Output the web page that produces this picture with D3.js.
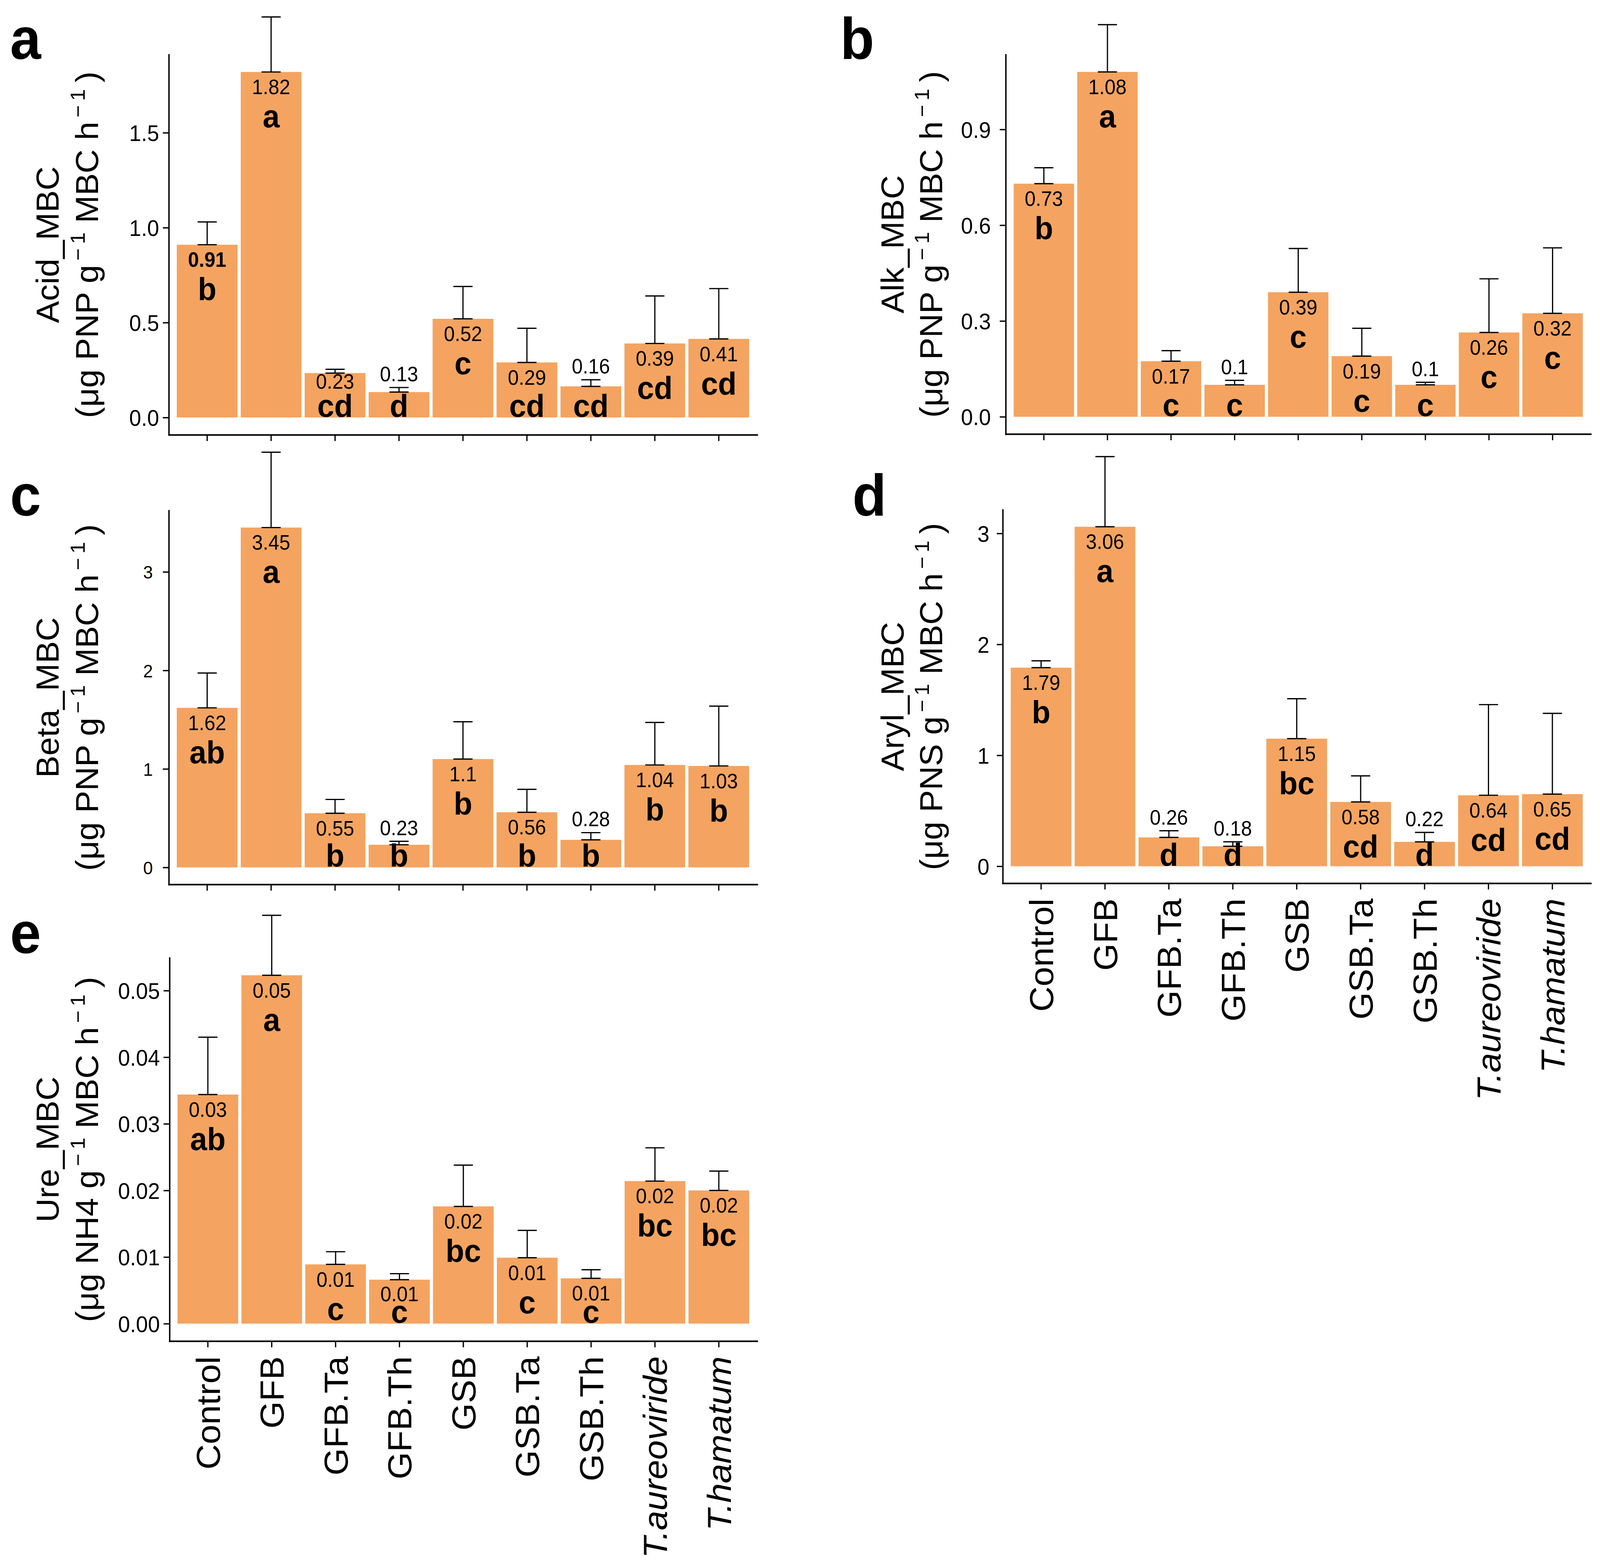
<!DOCTYPE html>
<html lang="en">
<head>
<meta charset="UTF-8" />
<title>Enzyme activity per MBC</title>
<style>
    body, html {
        margin: 0;
        padding: 0;
        overflow: hidden;
        background: #fff;
    }
    svg {
        display: block;
        width: 100vw;
        height: 100vh;
        font-family: "Liberation Sans", Arial, sans-serif;
    }
</style>
</head>
<body>
<svg id="chart"></svg>

<script src="https://d3js.org/d3.v7.min.js"></script>
<script>
    // treatments (x axis)
    const groups = ["Control", "GFB", "GFB.Ta", "GFB.Th", "GSB", "GSB.Ta", "GSB.Th", "T.aureoviride", "T.hamatum"];
    const italicGroups = ["T.aureoviride", "T.hamatum"];

    // a - acid phosphatase
    const acidMean = [0.91, 1.82, 0.234, 0.134, 0.52, 0.29, 0.164, 0.39, 0.414];
    const acidSE = [0.12, 0.29, 0.02, 0.024, 0.17, 0.18, 0.035, 0.25, 0.265];
    const acidSig = ["b", "a", "cd", "d", "c", "cd", "cd", "cd", "cd"];
    const acidTicks = [0, 0.5, 1, 1.5];
    const acidBoldLabels = ["Control"];   // this mean label is printed bold in the figure

    // b - alkaline phosphatase
    const alkMean = [0.73, 1.08, 0.174, 0.1, 0.39, 0.19, 0.1, 0.264, 0.324];
    const alkSE = [0.05, 0.148, 0.033, 0.014, 0.137, 0.087, 0.008, 0.168, 0.205];
    const alkSig = ["b", "a", "c", "c", "c", "c", "c", "c", "c"];
    const alkTicks = [0, 0.3, 0.6, 0.9];

    // c - beta glucosidase
    const betaMean = [1.62, 3.45, 0.55, 0.23, 1.1, 0.56, 0.28, 1.04, 1.03];
    const betaSE = [0.353, 0.765, 0.14, 0.035, 0.379, 0.233, 0.073, 0.432, 0.607];
    const betaSig = ["ab", "a", "b", "b", "b", "b", "b", "b", "b"];
    const betaTicks = [0, 1, 2, 3];

    // d - arylsulfatase
    const arylMean = [1.79, 3.06, 0.26, 0.18, 1.15, 0.58, 0.22, 0.64, 0.65];
    const arylSE = [0.062, 0.632, 0.06, 0.041, 0.36, 0.235, 0.085, 0.817, 0.728];
    const arylSig = ["b", "a", "d", "d", "bc", "cd", "d", "cd", "cd"];
    const arylTicks = [0, 1, 2, 3];

    // e - urease
    const ureMean = [0.0344, 0.0523, 0.0089, 0.0066, 0.0176, 0.0099, 0.0068, 0.0214, 0.0200];
    const ureSE = [0.0086, 0.009, 0.0019, 0.0009, 0.0062, 0.0041, 0.0013, 0.005, 0.0029];
    const ureSig = ["ab", "a", "c", "c", "bc", "c", "c", "bc", "bc"];
    const ureTicks = [0, 0.01, 0.02, 0.03, 0.04, 0.05];

    const panels = [
        { tag: "a", name: "Acid_MBC", unit: "PNP", mean: acidMean, se: acidSE, sig: acidSig, ticks: acidTicks, fmt: ".1f", xlab: false, bold: acidBoldLabels },
        { tag: "b", name: "Alk_MBC", unit: "PNP", mean: alkMean, se: alkSE, sig: alkSig, ticks: alkTicks, fmt: ".1f", xlab: false, bold: [] },
        { tag: "c", name: "Beta_MBC", unit: "PNP", mean: betaMean, se: betaSE, sig: betaSig, ticks: betaTicks, fmt: "d", xlab: false, bold: [] },
        { tag: "d", name: "Aryl_MBC", unit: "PNS", mean: arylMean, se: arylSE, sig: arylSig, ticks: arylTicks, fmt: "d", xlab: true, bold: [] },
        { tag: "e", name: "Ure_MBC", unit: "NH4", mean: ureMean, se: ureSE, sig: ureSig, ticks: ureTicks, fmt: ".2f", xlab: true, bold: [] }
    ];

    // panel frames in figure pixels (figure is 4313 x 3996)
    const W = 4313, H = 3996;
    const frames = {
        a: { left: 455, right: 2041, top: 140, bottom: 1113, tickFont: 58, tickPad: 10, t1: 158, t2: 264, lx: 27, ly: 151 },
        b: { left: 2711, right: 4288, top: 140, bottom: 1111, tickFont: 58, tickPad: 24, t1: 2436, t2: 2540, lx: 2265, ly: 151 },
        c: { left: 455, right: 2041, top: 1307, bottom: 2264, tickFont: 47, tickPad: 27, t1: 158, t2: 264, lx: 27, ly: 1320 },
        d: { left: 2703, right: 4288, top: 1305, bottom: 2261, tickFont: 58, tickPad: 20, t1: 2436, t2: 2540, lx: 2298, ly: 1320 },
        e: { left: 457, right: 2041, top: 2452, bottom: 3433, tickFont: 58, tickPad: 10, t1: 158, t2: 264, lx: 27, ly: 2440 }
    };

    const barColor = "#F4A460";
    // stretch the figure over the whole window
    const svg = d3.select("#chart")
        .attr("viewBox", [0, 0, W, H])
        .attr("preserveAspectRatio", "none");
    svg.append("rect").attr("width", W).attr("height", H).attr("fill", "#fff");

    panels.forEach(p => drawPanel(p, frames[p.tag]));

    function drawPanel(p, f) {
        const g = svg.append("g").attr("class", "panel-" + p.tag);
        const rows = groups.map((k, i) => ({ k, v: p.mean[i], se: p.se[i], sig: p.sig[i] }));
        const vmax = d3.max(p.mean);

        const x = d3.scaleBand().domain(groups).range([f.left, f.right])
            .paddingInner(0).paddingOuter(0.1);
        const y = d3.scaleLinear().domain([-0.05 * vmax, 1.05 * vmax]).range([f.bottom, f.top]);
        const step = x.step();
        const bw = step * 0.95;
        const cx = k => x(k) + x.bandwidth() / 2;

        // bars
        g.append("g").selectAll("rect").data(rows).join("rect")
            .attr("x", d => cx(d.k) - bw / 2)
            .attr("width", bw)
            .attr("y", d => y(d.v))
            .attr("height", d => y(0) - y(d.v))
            .attr("fill", barColor);

        // error bars (mean to mean + se)
        const capW = step * 0.3;
        const eb = g.append("g").attr("stroke", "#000").attr("stroke-width", 3.2).attr("fill", "none");
        eb.selectAll("line.v").data(rows).join("line").attr("class", "v")
            .attr("x1", d => cx(d.k)).attr("x2", d => cx(d.k))
            .attr("y1", d => y(d.v)).attr("y2", d => y(d.v + d.se));
        eb.selectAll("line.top").data(rows).join("line").attr("class", "top")
            .attr("x1", d => cx(d.k) - capW / 2).attr("x2", d => cx(d.k) + capW / 2)
            .attr("y1", d => y(d.v + d.se)).attr("y2", d => y(d.v + d.se));
        eb.selectAll("line.bot").data(rows).join("line").attr("class", "bot")
            .attr("x1", d => cx(d.k) - capW / 2).attr("x2", d => cx(d.k) + capW / 2)
            .attr("y1", d => y(d.v)).attr("y2", d => y(d.v));

        // significance letters sit under the mean; the mean label goes above the
        // error bar when the bar is too short to hold both
        const sigSize = 82, numSize = 53;
        rows.forEach(d => {
            d.sigBase = Math.min(y(d.v) + 142, y(0) - 2);
            const sigTop = d.sigBase - (/[bdhklf]/.test(d.sig) ? 0.73 : 0.53) * sigSize;
            let nb = Math.min(y(d.v) + 57, sigTop - 12);
            if (nb - 0.72 * numSize < y(d.v) - 6) nb = y(d.v + d.se) - 16;
            d.numBase = nb;
        });

        g.append("g").selectAll("text").data(rows).join("text")
            .attr("x", d => cx(d.k)).attr("y", d => d.numBase)
            .attr("text-anchor", "middle").attr("font-size", numSize)
            .attr("font-weight", d => p.bold.includes(d.k) ? "bold" : "normal")
            .text(d => String(+d.v.toFixed(2)));

        g.append("g").selectAll("text").data(rows).join("text")
            .attr("x", d => cx(d.k)).attr("y", d => d.sigBase)
            .attr("text-anchor", "middle").attr("font-size", sigSize).attr("font-weight", "bold")
            .text(d => d.sig);

        // y axis
        const yAxis = g.append("g").attr("transform", `translate(${f.left},0)`)
            .call(d3.axisLeft(y).tickValues(p.ticks).tickFormat(d3.format(p.fmt))
                .tickSize(16).tickSizeOuter(0).tickPadding(f.tickPad));
        styleAxis(yAxis, f.tickFont);
        yAxis.selectAll("text").attr("dy", "0.36em");

        // x axis
        const xAxis = g.append("g").attr("transform", `translate(0,${f.bottom})`)
            .call(d3.axisBottom(x).tickSize(16).tickSizeOuter(0));
        styleAxis(xAxis, 90);
        if (p.xlab) {
            xAxis.selectAll(".tick text")
                .attr("y", 0).attr("x", -39).attr("dy", "0.36em")
                .attr("transform", "rotate(-90)")
                .attr("text-anchor", "end")
                .attr("font-style", d => italicGroups.includes(d) ? "italic" : "normal");
        } else {
            xAxis.selectAll(".tick text").remove();
        }

        // y title (two lines)
        const cy = (f.top + f.bottom) / 2;
        g.append("text")
            .attr("transform", `translate(${f.t1},${cy}) rotate(-90)`)
            .attr("text-anchor", "middle").attr("font-size", 85)
            .text(p.name);
        const t2 = g.append("text")
            .attr("transform", `translate(${f.t2},${cy}) rotate(-90)`)
            .attr("text-anchor", "middle").attr("font-size", 85);
        t2.append("tspan").text(`(μg ${p.unit} g`);
        t2.append("tspan").attr("font-size", 54).attr("dy", -36).text("\u2009\u2212\u20091");
        t2.append("tspan").attr("dy", 36).text(" MBC h");
        t2.append("tspan").attr("font-size", 54).attr("dy", -36).text("\u2009\u2212\u20091");
        t2.append("tspan").attr("dy", 36).text("\u2009)");

        // panel tag
        g.append("text").attr("x", f.lx).attr("y", f.ly)
            .attr("font-size", 150).attr("font-weight", "bold")
            .text(p.tag);
    }

    function styleAxis(sel, fontSize) {
        sel.attr("font-family", null).attr("font-size", fontSize);
        sel.select(".domain").attr("stroke", "#000").attr("stroke-width", 3.8).attr("stroke-linecap", "square");
        sel.selectAll(".tick line").attr("stroke", "#000").attr("stroke-width", 3.4);
        sel.selectAll(".tick text").attr("fill", "#000");
    }
</script>
</body>
</html>
